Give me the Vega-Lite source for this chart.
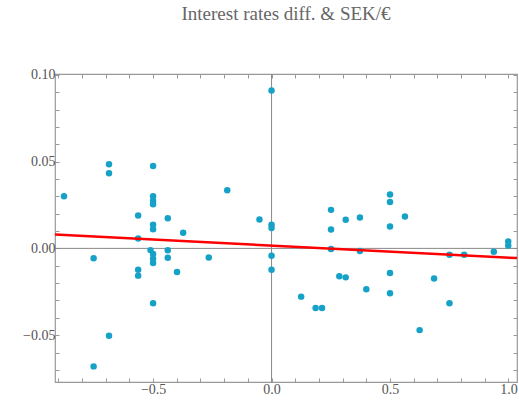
{
  "$schema": "https://vega.github.io/schema/vega-lite/v6.json",
  "width": 462,
  "height": 308,
  "autosize": "none",
  "padding": {"left": 55, "top": 74, "right": 2, "bottom": 21},
  "background": "white",
  "view": {"stroke": "#999999", "strokeWidth": 1.2},
  "title": {"text": "Interest rates diff. & SEK/€", "font": "Liberation Serif", "fontSize": 19, "fontWeight": "normal", "color": "#666666", "offset": 44},
  "config": {
    "axis": {"labelFont": "Liberation Serif", "labelFontSize": 14, "labelColor": "#555555", "domain": false, "grid": false, "tickColor": "#999999", "tickSize": -4, "labelPadding": 4, "labelOverlap": false, "labelFlush": false}
  },
  "datasets": {
    "pts": [
      {"x": -0.876, "y": 0.030}, {"x": -0.751, "y": -0.0057}, {"x": -0.751, "y": -0.068},
      {"x": -0.686, "y": 0.0485}, {"x": -0.686, "y": 0.0433}, {"x": -0.686, "y": -0.0504},
      {"x": -0.563, "y": 0.019}, {"x": -0.563, "y": 0.0057}, {"x": -0.563, "y": -0.0123}, {"x": -0.563, "y": -0.0157},
      {"x": -0.5, "y": 0.0475}, {"x": -0.5, "y": 0.030}, {"x": -0.5, "y": 0.0274}, {"x": -0.5, "y": 0.0255},
      {"x": -0.5, "y": 0.0136}, {"x": -0.5, "y": 0.011}, {"x": -0.511, "y": -0.001}, {"x": -0.5, "y": -0.0033},
      {"x": -0.5, "y": -0.0059}, {"x": -0.5, "y": -0.0084}, {"x": -0.5, "y": -0.0316},
      {"x": -0.438, "y": 0.0174}, {"x": -0.438, "y": -0.0011}, {"x": -0.438, "y": -0.0054},
      {"x": -0.399, "y": -0.0136}, {"x": -0.373, "y": 0.009}, {"x": -0.265, "y": -0.0052},
      {"x": -0.187, "y": 0.0335}, {"x": -0.051, "y": 0.0167},
      {"x": 0, "y": 0.091}, {"x": 0, "y": 0.0136}, {"x": 0, "y": 0.0117}, {"x": 0, "y": -0.0042}, {"x": 0, "y": -0.0123},
      {"x": 0.251, "y": 0.0222}, {"x": 0.251, "y": 0.0109}, {"x": 0.251, "y": -0.0004},
      {"x": 0.125, "y": -0.0278}, {"x": 0.186, "y": -0.0343}, {"x": 0.213, "y": -0.0343},
      {"x": 0.286, "y": -0.0161}, {"x": 0.313, "y": 0.0165}, {"x": 0.313, "y": -0.0167},
      {"x": 0.373, "y": 0.0178}, {"x": 0.373, "y": -0.0015}, {"x": 0.4, "y": -0.0236},
      {"x": 0.5, "y": 0.031}, {"x": 0.5, "y": 0.0268}, {"x": 0.5, "y": 0.0126}, {"x": 0.5, "y": -0.0142}, {"x": 0.5, "y": -0.0259},
      {"x": 0.563, "y": 0.0184}, {"x": 0.625, "y": -0.0471}, {"x": 0.686, "y": -0.0174},
      {"x": 0.751, "y": -0.0036}, {"x": 0.751, "y": -0.0316}, {"x": 0.813, "y": -0.0036},
      {"x": 0.938, "y": -0.0019}, {"x": 0.999, "y": 0.004}, {"x": 0.999, "y": 0.0017}
    ],
    "fit": [{"x": -0.914, "y": 0.008}, {"x": 1.036, "y": -0.0056}],
    "zero": [{"v": 0}]
  },
  "layer": [
    {
      "data": {"name": "zero"},
      "mark": {"type": "rule", "color": "#888888", "strokeWidth": 1},
      "encoding": {"x": {"field": "v", "type": "quantitative", "scale": {"domain": [-0.914, 1.036], "nice": false, "zero": false},
        "axis": {"orient": "top", "values": [-0.9,-0.8,-0.7,-0.6,-0.5,-0.4,-0.3,-0.2,-0.1,0,0.1,0.2,0.3,0.4,0.5,0.6,0.7,0.8,0.9,1.0], "labels": false, "title": null}}}
    },
    {
      "data": {"name": "zero"},
      "mark": {"type": "rule", "color": "#888888", "strokeWidth": 1},
      "encoding": {"y": {"field": "v", "type": "quantitative", "scale": {"domain": [-0.077, 0.1005], "nice": false, "zero": false},
        "axis": {"orient": "right", "values": [-0.07,-0.06,-0.05,-0.04,-0.03,-0.02,-0.01,0,0.01,0.02,0.03,0.04,0.05,0.06,0.07,0.08,0.09,0.1], "labels": false, "title": null}}}
    },
    {
      "data": {"name": "pts"},
      "mark": {"type": "circle", "size": 42, "color": "#16a2c7", "opacity": 1},
      "encoding": {
        "x": {"field": "x", "type": "quantitative", "scale": {"domain": [-0.914, 1.036], "nice": false, "zero": false},
          "axis": {"orient": "bottom", "values": [-0.9,-0.8,-0.7,-0.6,-0.5,-0.4,-0.3,-0.2,-0.1,0,0.1,0.2,0.3,0.4,0.5,0.6,0.7,0.8,0.9,1.0], "labelExpr": "round(datum.value*10) % 5 == 0 ? replace(format(datum.value, '.1f'), '-', '−') : ''", "title": null}},
        "y": {"field": "y", "type": "quantitative", "scale": {"domain": [-0.077, 0.1005], "nice": false, "zero": false},
          "axis": {"orient": "left", "values": [-0.07,-0.06,-0.05,-0.04,-0.03,-0.02,-0.01,0,0.01,0.02,0.03,0.04,0.05,0.06,0.07,0.08,0.09,0.1], "labelExpr": "round(datum.value*100) % 5 == 0 ? replace(format(datum.value, '.2f'), '-', '−') : ''", "title": null}}
      }
    },
    {
      "data": {"name": "fit"},
      "mark": {"type": "line", "color": "#ff0000", "strokeWidth": 2.5},
      "encoding": {
        "x": {"field": "x", "type": "quantitative", "scale": {"domain": [-0.914, 1.036], "nice": false, "zero": false}, "axis": null},
        "y": {"field": "y", "type": "quantitative", "scale": {"domain": [-0.077, 0.1005], "nice": false, "zero": false}, "axis": null}
      }
    }
  ],
  "resolve": {"axis": {"x": "independent", "y": "independent"}}
}
